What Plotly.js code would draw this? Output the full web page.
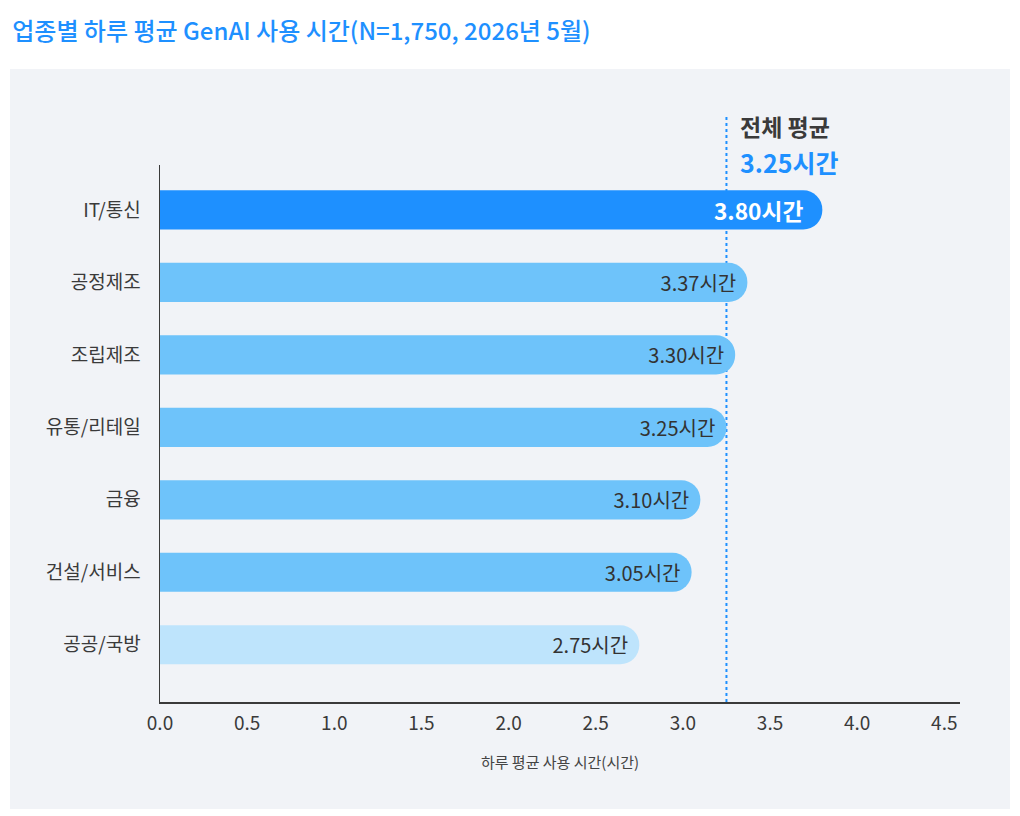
<!DOCTYPE html>
<html>
<head>
<meta charset="utf-8">
<script src="https://cdn.plot.ly/plotly-3.0.1.min.js"></script>
<style>
  html, body { margin: 0; padding: 0; background: #fff; }
  #chart { width: 1020px; height: 816px; }
</style>
</head>
<body>
<div id="chart"></div>
<script>
const industries = ["IT/통신", "공정제조", "조립제조", "유통/리테일", "금융", "건설/서비스", "공공/국방"];
const hours = [3.80, 3.37, 3.30, 3.25, 3.10, 3.05, 2.75];
const barColors = ["#1e90ff", "#6ec3fa", "#6ec3fa", "#6ec3fa", "#6ec3fa", "#6ec3fa", "#bee4fc"];
const overallAvg = 3.25;
const xTicks = [0, 0.5, 1, 1.5, 2, 2.5, 3, 3.5, 4, 4.5];

const FONT = "'Noto Sans CJK KR', 'Noto Sans', sans-serif";

const labels = hours.map((h, i) =>
  i === 0 ? "<b>" + h.toFixed(2) + "시간</b>" : h.toFixed(2) + "시간"
);

const data = [
  {
    type: "bar",
    orientation: "h",
    y: industries,
    x: hours,
    width: 0.54,
    marker: { color: barColors, cornerradius: 20 },
    text: labels,
    textposition: "inside",
    insidetextanchor: "end",
    textangle: 0,
    textfont: {
      family: FONT,
      size: hours.map((h, i) => (i === 0 ? 24 : 20)),
      color: hours.map((h, i) => (i === 0 ? "#ffffff" : "#333333"))
    },
    hoverinfo: "none"
  }
];

const layout = {
  width: 1020,
  height: 816,
  margin: { l: 160, r: 60, t: 165, b: 114 },
  paper_bgcolor: "#ffffff",
  plot_bgcolor: "#f1f3f7",
  font: { family: FONT, color: "#333" },
  showlegend: false,
  bargap: 0.46,
  title: {
    text: "업종별 하루 평균 GenAI 사용 시간(N=1,750, 2026년 5월)",
    x: 0.012,
    xanchor: "left",
    y: 0.961,
    yanchor: "middle",
    font: { family: FONT, size: 24, color: "#1e90ff", weight: 500 }
  },
  xaxis: {
    range: [0, 4.59],
    tickvals: xTicks,
    tickformat: ".1f",
    showgrid: false,
    zeroline: false,
    showline: true,
    linecolor: "#3a3a3a",
    linewidth: 1.5,
    ticks: "",
    ticklabelstandoff: 4,
    tickfont: { size: 19, color: "#3a3a3a" },
    title: {
      text: "하루 평균 사용 시간(시간)",
      font: { size: 15, color: "#444" },
      standoff: 23
    }
  },
  yaxis: {
    type: "category",
    range: [6.79, -0.62],
    showgrid: false,
    zeroline: false,
    showline: true,
    linecolor: "#3a3a3a",
    linewidth: 1.5,
    ticks: "",
    ticklabelstandoff: 14,
    tickfont: { size: 19, color: "#3a3a3a" }
  },
  shapes: [
    {
      type: "rect",
      xref: "paper",
      yref: "paper",
      x0: -0.1875,
      x1: 1.0625,
      y0: -0.1994,
      y1: 1.1788,
      fillcolor: "#f1f3f7",
      line: { width: 0 },
      layer: "below"
    },
    {
      type: "line",
      xref: "x",
      yref: "paper",
      x0: overallAvg,
      x1: overallAvg,
      y0: 0,
      y1: 1.0894,
      line: { color: "#1e90ff", width: 2, dash: "dot" },
      layer: "below"
    }
  ],
  annotations: [
    {
      xref: "x",
      yref: "paper",
      x: overallAvg,
      xshift: 12,
      y: 1.072,
      xanchor: "left",
      yanchor: "middle",
      showarrow: false,
      text: "<b>전체 평균</b>",
      font: { size: 23, color: "#3a3a3a" }
    },
    {
      xref: "x",
      yref: "paper",
      x: overallAvg,
      xshift: 12,
      y: 1.006,
      xanchor: "left",
      yanchor: "middle",
      showarrow: false,
      text: "<b>" + overallAvg.toFixed(2) + "시간</b>",
      font: { size: 25, color: "#1e90ff" }
    }
  ]
};

Plotly.newPlot("chart", data, layout, { staticPlot: true, displayModeBar: false });
</script>
</body>
</html>
